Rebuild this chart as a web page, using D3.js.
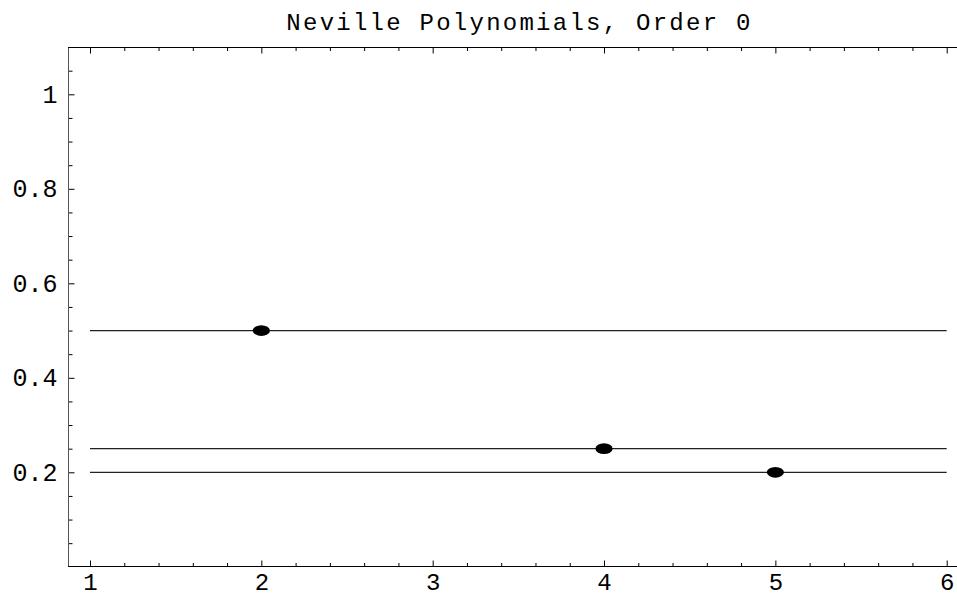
<!DOCTYPE html>
<html>
<head>
<meta charset="utf-8">
<script src="https://cdn.jsdelivr.net/npm/d3@7"></script>
<style>
  html, body { margin: 0; padding: 0; background: #fff; }
  svg { display: block; }
  text { font-family: "Liberation Mono", "Courier New", monospace; fill: #000; }
</style>
</head>
<body>
<svg id="chart" width="957" height="597"></svg>
<script>
// Interpolation nodes and their values (order-0 Neville polynomials are constants)
const nodes = [2, 4, 5];
const values = [0.5, 0.25, 0.2];
const xTickValues = [1, 2, 3, 4, 5, 6];
const yTickValues = [0.2, 0.4, 0.6, 0.8, 1];
const titleText = "Neville Polynomials, Order 0";

const svg = d3.select("#chart");

// Plot range padded slightly beyond the data extent
const x = d3.scaleLinear().domain([0.8716, 6.1284]).range([68, 968.7]);
const y = d3.scaleLinear().domain([0, 1.1]).range([566.8, 47.05]);

const frameLeft = x(0.8716), frameRight = x(6.1284), frameTop = y(1.1), frameBottom = y(0);
const bx = Math.round(frameBottom) - 0.5;
const tx = Math.round(frameTop) + 0.5;
const lx = Math.round(frameLeft) + 0.5;

const xMinor = d3.range(1, 6.2001, 0.2).filter(v => Math.abs(v - Math.round(v)) > 1e-6);
const yMinor = d3.range(0.05, 1.1, 0.05).filter(v => Math.abs(v * 5 - Math.round(v * 5)) > 1e-6);

function styleAxis(g, color, size) {
  g.select(".domain").remove();
  g.selectAll(".tick line").attr("stroke", color).attr("stroke-width", 1);
  g.selectAll(".tick text")
    .attr("font-size", size || 25)
    .attr("font-family", "Liberation Mono, Courier New, monospace")
    .attr("fill", "#000");
}

// Bottom axis: major ticks with labels, minor ticks without
const gBottom = svg.append("g").attr("transform", `translate(0,${bx})`);
gBottom.call(d3.axisBottom(x).tickValues(xTickValues).tickSize(-6).tickPadding(6).tickFormat(d3.format("d")));
styleAxis(gBottom, "#000", 24);
const gBottomMinor = svg.append("g").attr("transform", `translate(0,${bx})`);
gBottomMinor.call(d3.axisBottom(x).tickValues(xMinor).tickSize(-3.5).tickFormat(""));
styleAxis(gBottomMinor, "#000");

// Top frame ticks
const gTop = svg.append("g").attr("transform", `translate(0,${tx})`);
gTop.call(d3.axisTop(x).tickValues(xTickValues).tickSize(-6).tickFormat(""));
styleAxis(gTop, "#000");
const gTopMinor = svg.append("g").attr("transform", `translate(0,${tx})`);
gTopMinor.call(d3.axisTop(x).tickValues(xMinor).tickSize(-3.5).tickFormat(""));
styleAxis(gTopMinor, "#000");

// Left axis
const gLeft = svg.append("g").attr("transform", `translate(${lx},0)`);
gLeft.call(d3.axisLeft(y).tickValues(yTickValues).tickSize(-6).tickPadding(11).tickFormat(d3.format("")));
styleAxis(gLeft, "#000", 25);
const gLeftMinor = svg.append("g").attr("transform", `translate(${lx},0)`);
gLeftMinor.call(d3.axisLeft(y).tickValues(yMinor).tickSize(-4).tickFormat(""));
styleAxis(gLeftMinor, "#000");

// Frame lines
const frame = svg.append("g").attr("fill", "none").attr("stroke-width", 1);
frame.append("line")
  .attr("x1", lx).attr("x2", lx)
  .attr("y1", tx).attr("y2", bx)
  .attr("stroke", "#555");
frame.append("line")
  .attr("x1", lx - 0.5).attr("x2", frameRight)
  .attr("y1", bx).attr("y2", bx)
  .attr("stroke", "#000");
frame.append("line")
  .attr("x1", lx - 0.5).attr("x2", frameRight)
  .attr("y1", tx).attr("y2", tx)
  .attr("stroke", "#000");
frame.append("line")
  .attr("x1", frameRight).attr("x2", frameRight)
  .attr("y1", frameTop).attr("y2", frameBottom)
  .attr("stroke", "#000");

// Constant polynomials drawn across the node interval
const data = nodes.map((n, i) => ({ node: n, value: values[i] }));
svg.append("g").selectAll("line.poly").data(data).join("line")
  .attr("class", "poly")
  .attr("x1", x(d3.min(xTickValues)))
  .attr("x2", x(d3.max(xTickValues)))
  .attr("y1", d => y(d.value))
  .attr("y2", d => y(d.value))
  .attr("stroke", "#222")
  .attr("stroke-width", 1.2);

// Interpolation points
svg.append("g").selectAll("ellipse").data(data).join("ellipse")
  .attr("cx", d => x(d.node))
  .attr("cy", d => y(d.value))
  .attr("rx", 8.6)
  .attr("ry", 5.4)
  .attr("fill", "#000");

// Title
svg.append("text")
  .attr("x", (frameLeft + frameRight) / 2)
  .attr("y", 30)
  .attr("text-anchor", "middle")
  .attr("font-size", 24)
  .attr("textLength", 464)
  .attr("lengthAdjust", "spacing")
  .text(titleText);
</script>
</body>
</html>
